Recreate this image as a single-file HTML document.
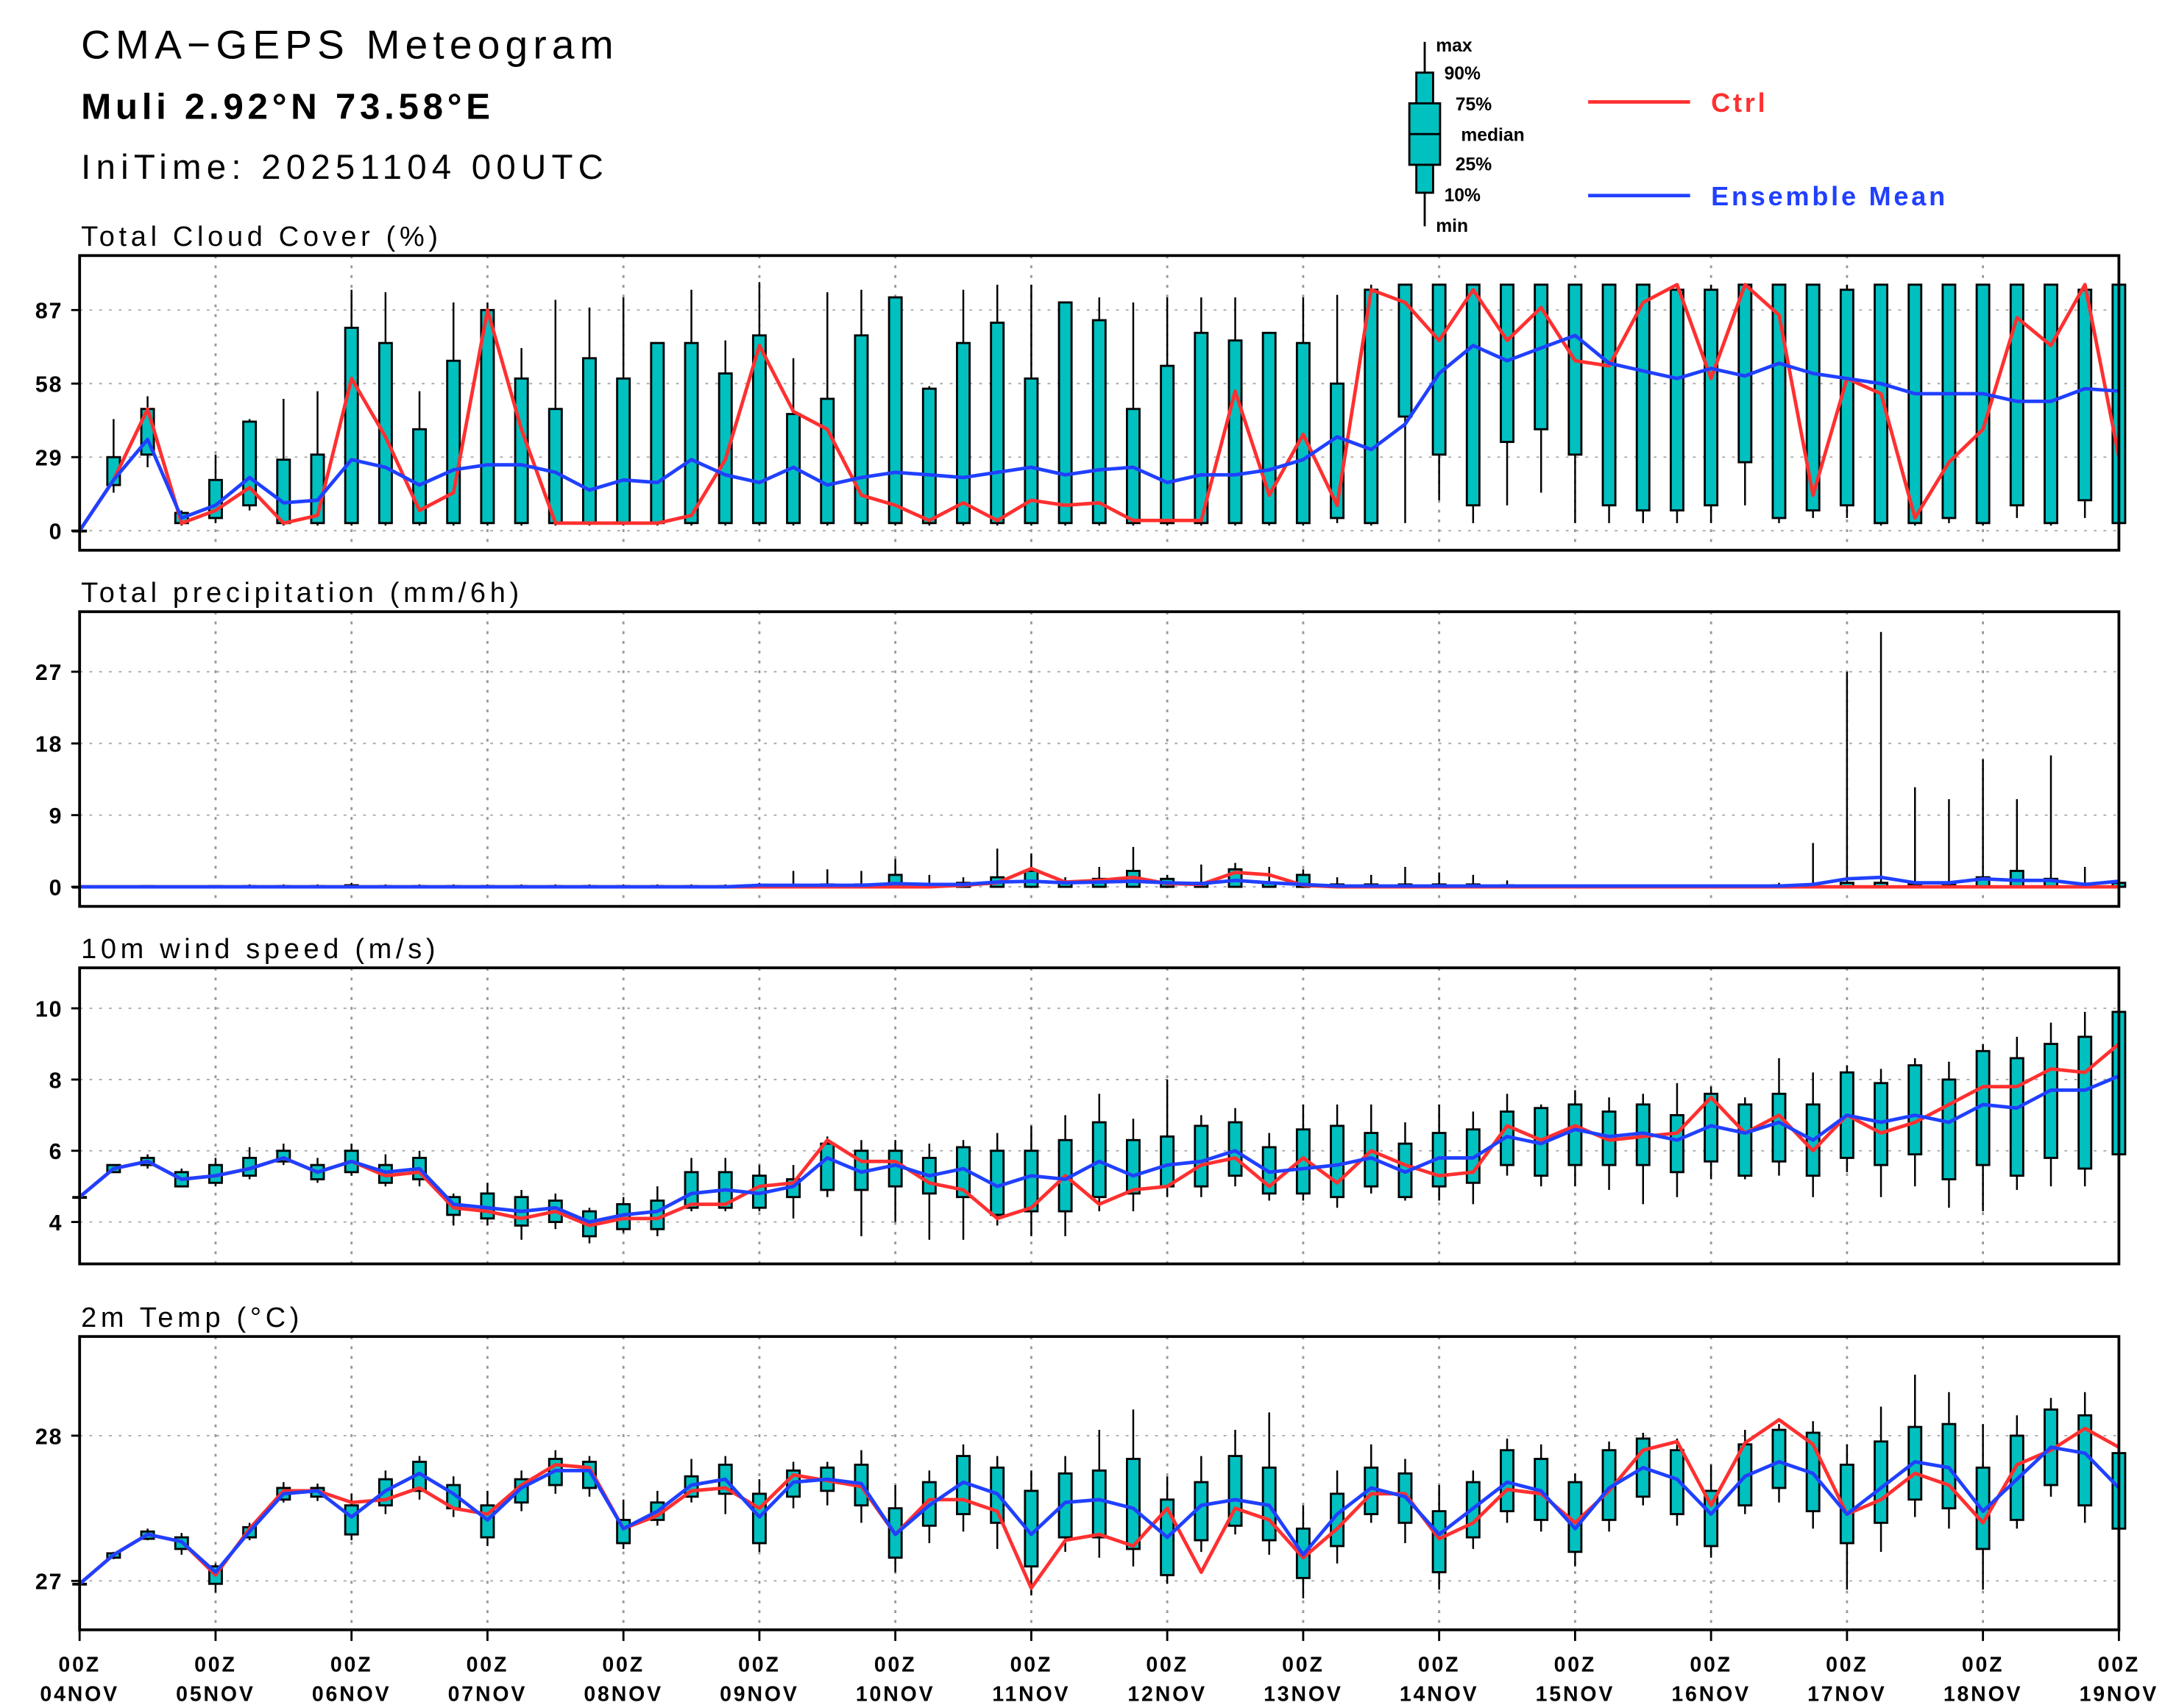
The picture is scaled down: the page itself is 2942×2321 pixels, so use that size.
<!DOCTYPE html>
<html><head><meta charset="utf-8"><style>
html,body{margin:0;padding:0;background:#fff;}
svg{display:block;}
text{font-family:"Liberation Sans",sans-serif;}
</style></head><body>
<svg id="chart" xmlns="http://www.w3.org/2000/svg" width="2942" height="2321" viewBox="0 0 1550 1223" preserveAspectRatio="none">
<rect x="0" y="0" width="1550" height="1223" fill="#fff"/>
<text x="58" y="42" font-size="29" letter-spacing="3.8">CMA−GEPS Meteogram</text>
<text x="58" y="85" font-size="26" font-weight="bold" letter-spacing="3">Muli 2.92°N 73.58°E</text>
<text x="58" y="128" font-size="25" letter-spacing="3.8">IniTime: 20251104 00UTC</text>
<g id="legend" font-size="13" font-weight="bold">
 <line x1="1020" y1="30" x2="1020" y2="162" stroke="#000" stroke-width="1.5"/>
 <rect x="1014" y="52" width="12" height="86" fill="#00c0c0" stroke="#000" stroke-width="1.5"/>
 <rect x="1009" y="74" width="22" height="44" fill="#00c0c0" stroke="#000" stroke-width="1.5"/>
 <line x1="1009" y1="96" x2="1031" y2="96" stroke="#000" stroke-width="1.5"/>
 <text x="1028" y="37">max</text><text x="1034" y="57">90%</text><text x="1042" y="79">75%</text>
 <text x="1046" y="101">median</text><text x="1042" y="122">25%</text><text x="1034" y="144">10%</text><text x="1028" y="166">min</text>
 <line x1="1137" y1="73" x2="1210" y2="73" stroke="#ff3030" stroke-width="2.5"/>
 <text x="1225" y="80" fill="#ff3030" font-size="19" font-weight="bold" letter-spacing="2">Ctrl</text>
 <line x1="1137" y1="140" x2="1210" y2="140" stroke="#2040ff" stroke-width="2.5"/>
 <text x="1225" y="147" fill="#2040ff" font-size="19" font-weight="bold" letter-spacing="2">Ensemble Mean</text>
</g>
<g id="plots"></g>
</svg>
<script>
const NS='http://www.w3.org/2000/svg';
const days=['04NOV','05NOV','06NOV','07NOV','08NOV','09NOV','10NOV','11NOV','12NOV','13NOV','14NOV','15NOV','16NOV','17NOV','18NOV','19NOV'];
const cloudCtrl=[0,20,48,3,8,17,3,6,60,37,8,15,87,40,3,3,3,3,6,28,73,47,40,14,10,4,11,4,12,10,11,4,4,4,55,14,38,10,95,90,75,95,75,88,67,65,90,97,60,97,85,14,60,54,5,27,40,84,73,97,29];
const cloudMean=[0,20,36,5,10,21,11,12,28,25,18,24,26,26,23,16,20,19,28,22,19,25,18,21,23,22,21,23,25,22,24,25,19,22,22,24,28,37,32,42,62,73,67,72,77,66,63,60,64,61,66,62,60,58,54,54,54,51,51,56,55];
const cloudMax=[0,44,53,8,30,44,52,55,95,94,55,90,90,72,91,88,92,62,95,75,98,68,94,95,92,57,95,97,97,90,92,90,92,92,92,78,92,93,97,97,97,97,97,97,97,97,97,97,97,97,97,97,97,97,97,97,97,97,97,97,97];
const cloudHi=[0,29,48,7,20,43,28,30,80,74,40,67,87,60,48,68,60,74,74,62,77,46,52,77,92,56,74,82,60,90,83,48,65,78,75,78,74,58,95,97,97,97,97,97,97,97,97,95,95,97,97,97,95,97,97,97,97,97,97,95,97];
const cloudLo=[0,18,30,3,5,10,3,3,3,3,3,3,3,3,3,3,3,3,3,3,3,3,3,3,3,3,3,3,3,3,3,3,3,3,3,3,3,5,3,45,30,10,35,40,30,10,8,8,10,27,5,8,10,3,3,5,3,10,3,12,3];
const cloudMin=[0,15,25,2,3,8,2,2,2,2,2,2,2,2,2,2,2,2,2,2,2,2,2,2,2,2,2,2,2,2,2,2,2,2,2,2,2,3,2,3,12,3,10,15,3,3,3,3,3,10,3,5,5,2,2,3,2,5,2,5,2];
const precCtrl=[0,0,0,0,0,0,0,0,0,0,0,0,0,0,0,0,0,0,0,0,0,0,0,0,0,0,0.2,0.5,2.3,0.6,0.8,1.2,0.4,0.3,1.8,1.5,0.2,0,0,0,0,0,0,0,0,0,0,0,0,0,0,0,0,0,0,0,0,0,0,0,0];
const precMean=[0,0,0,0,0,0,0,0,0,0,0,0,0,0,0,0,0,0,0,0,0.2,0.2,0.2,0.2,0.4,0.3,0.3,0.6,0.7,0.5,0.6,0.7,0.5,0.4,0.8,0.5,0.3,0.1,0.1,0.1,0.1,0.1,0.1,0.1,0.1,0.1,0.1,0.1,0.1,0.1,0.1,0.3,1.0,1.2,0.5,0.5,1.0,0.8,0.8,0.3,0.7];
const precMax=[0,0,0.2,0,0.2,0.3,0.3,0.3,0.5,0.3,0.3,0.3,0.3,0.3,0.3,0.3,0.3,0.3,0.3,0.3,0.5,2,2.2,2,3.5,1.5,1.2,4.8,4.2,1.2,2.5,5,1.5,2.8,3,2.5,2.2,1.2,1.5,2.5,1.8,1.5,0.8,0.3,0.3,0.3,0.3,0.3,0.3,0.3,0.5,5.5,27,32,12.5,11,16,11,16.5,2.5,1];
const precHi=[0,0,0.1,0,0.1,0.1,0.1,0.1,0.2,0.1,0.1,0.1,0.1,0.1,0.1,0.1,0.1,0.1,0.1,0.1,0.2,0.2,0.3,0.3,1.5,0.3,0.5,1.2,2,0.5,1,2,1,0.5,2.2,0.5,1.5,0.3,0.3,0.3,0.3,0.3,0.2,0.1,0.1,0.1,0.1,0.1,0.1,0.1,0.2,0.3,0.5,0.5,0.3,0.3,1.2,2,1,0.3,0.5];
const precLo=[0,0,0,0,0,0,0,0,0,0,0,0,0,0,0,0,0,0,0,0,0,0,0,0,0,0,0,0,0,0,0,0,0,0,0,0,0,0,0,0,0,0,0,0,0,0,0,0,0,0,0,0,0,0,0,0,0,0,0,0,0];
const windCtrl=[4.7,5.5,5.7,5.2,5.3,5.5,5.8,5.4,5.7,5.3,5.4,4.4,4.3,4.1,4.3,3.9,4.1,4.1,4.5,4.5,5.0,5.1,6.3,5.7,5.7,5.1,4.9,4.1,4.4,5.3,4.5,4.9,5.0,5.6,5.8,5.0,5.8,5.1,6.0,5.6,5.3,5.4,6.7,6.3,6.7,6.3,6.4,6.5,7.5,6.5,7.0,6.0,7.0,6.5,6.8,7.3,7.8,7.8,8.3,8.2,9.0];
const windMean=[4.7,5.5,5.7,5.2,5.3,5.5,5.8,5.4,5.7,5.4,5.5,4.5,4.4,4.3,4.4,4.0,4.2,4.3,4.8,4.9,4.8,5.0,5.8,5.4,5.6,5.3,5.5,5.0,5.3,5.2,5.7,5.3,5.6,5.7,6.0,5.4,5.5,5.6,5.8,5.4,5.8,5.8,6.4,6.2,6.6,6.4,6.5,6.3,6.7,6.5,6.8,6.3,7.0,6.8,7.0,6.8,7.3,7.2,7.7,7.7,8.1];
const windHi=[4.7,5.6,5.8,5.4,5.6,5.8,6.0,5.6,6.0,5.6,5.8,4.7,4.8,4.7,4.6,4.3,4.5,4.6,5.4,5.4,5.3,5.2,6.2,6.0,6.0,5.8,6.1,6.0,6.0,6.3,6.8,6.3,6.4,6.7,6.8,6.1,6.6,6.7,6.5,6.2,6.5,6.6,7.1,7.2,7.3,7.1,7.3,7.0,7.6,7.3,7.6,7.3,8.2,7.9,8.4,8.0,8.8,8.6,9.0,9.2,9.9];
const windLo=[4.7,5.4,5.6,5.0,5.1,5.3,5.7,5.2,5.4,5.1,5.2,4.2,4.1,3.9,4.0,3.6,3.8,3.8,4.4,4.4,4.4,4.7,4.9,4.9,5.0,4.8,4.7,4.2,4.3,4.3,4.7,4.8,5.0,5.0,5.3,4.8,4.8,4.7,5.0,4.7,5.0,5.1,5.6,5.3,5.6,5.6,5.6,5.4,5.7,5.3,5.7,5.3,5.8,5.6,5.9,5.2,5.6,5.3,5.8,5.5,5.9];
const windMax=[4.7,5.6,5.9,5.5,5.8,6.1,6.2,5.8,6.2,5.9,6.0,4.8,5.1,4.9,4.8,4.4,4.7,5.0,5.8,5.8,5.6,5.6,6.4,6.3,6.3,6.2,6.3,6.5,6.7,7.0,7.6,6.9,8.0,7.0,7.2,6.5,7.3,7.3,7.3,6.8,7.3,7.1,7.6,7.3,7.7,7.5,7.6,7.9,7.8,7.5,8.6,8.2,8.4,8.3,8.6,8.5,9.0,9.2,9.6,9.9,10.1];
const windMin=[4.7,5.4,5.5,5.0,5.0,5.2,5.6,5.1,5.3,5.0,5.0,3.9,3.9,3.5,3.8,3.4,3.7,3.6,4.3,4.3,4.3,4.1,4.7,3.6,4.0,3.5,3.5,3.9,3.6,3.6,4.3,4.3,4.7,4.7,5.0,4.6,4.6,4.4,4.8,4.6,4.6,4.5,5.3,5.0,5.0,4.9,4.5,4.7,5.2,5.2,5.3,4.7,5.4,4.7,5.0,4.4,4.3,4.9,5.0,5.0,5.8];
const tempCtrl=[26.98,27.18,27.32,27.27,27.04,27.36,27.62,27.62,27.54,27.56,27.64,27.50,27.46,27.66,27.80,27.78,27.36,27.45,27.62,27.64,27.50,27.73,27.69,27.65,27.32,27.56,27.56,27.48,26.95,27.28,27.32,27.24,27.50,27.06,27.50,27.42,27.16,27.36,27.60,27.60,27.29,27.40,27.63,27.60,27.40,27.62,27.90,27.96,27.52,27.95,28.11,27.94,27.46,27.56,27.74,27.66,27.40,27.80,27.90,28.05,27.92];
const tempMean=[26.98,27.18,27.32,27.27,27.06,27.34,27.60,27.62,27.44,27.62,27.74,27.60,27.42,27.64,27.76,27.76,27.36,27.48,27.66,27.70,27.44,27.68,27.70,27.67,27.32,27.52,27.68,27.60,27.32,27.54,27.56,27.50,27.30,27.52,27.56,27.52,27.18,27.46,27.64,27.58,27.32,27.50,27.68,27.62,27.36,27.64,27.78,27.70,27.46,27.72,27.82,27.74,27.46,27.64,27.82,27.78,27.48,27.70,27.92,27.88,27.64];
const tempHi=[26.98,27.19,27.34,27.30,27.10,27.37,27.64,27.64,27.52,27.70,27.82,27.66,27.52,27.70,27.84,27.82,27.42,27.54,27.72,27.80,27.60,27.76,27.78,27.80,27.50,27.68,27.86,27.78,27.62,27.74,27.76,27.84,27.56,27.68,27.86,27.78,27.36,27.60,27.78,27.74,27.48,27.68,27.90,27.84,27.68,27.90,27.98,27.90,27.62,27.94,28.04,28.02,27.80,27.96,28.06,28.08,27.78,28.00,28.18,28.14,27.88];
const tempLo=[26.98,27.16,27.29,27.22,26.98,27.30,27.56,27.58,27.32,27.52,27.62,27.50,27.30,27.54,27.66,27.64,27.26,27.42,27.58,27.60,27.26,27.58,27.62,27.52,27.16,27.38,27.46,27.40,27.10,27.30,27.30,27.22,27.04,27.28,27.38,27.28,27.02,27.24,27.46,27.40,27.06,27.30,27.48,27.42,27.20,27.42,27.58,27.46,27.24,27.52,27.64,27.48,27.26,27.40,27.56,27.50,27.22,27.42,27.66,27.52,27.36];
const tempMax=[26.98,27.20,27.36,27.33,27.12,27.40,27.68,27.67,27.60,27.76,27.86,27.72,27.62,27.76,27.90,27.86,27.56,27.62,27.84,27.86,27.70,27.82,27.82,27.90,27.66,27.76,27.94,27.86,27.76,27.86,28.04,28.18,27.72,27.86,28.04,28.16,27.52,27.76,27.94,27.84,27.66,27.76,27.98,27.94,27.74,27.96,28.02,27.98,27.80,28.04,28.08,28.10,27.94,28.20,28.42,28.30,28.08,28.14,28.26,28.30,28.00];
const tempMin=[26.98,27.15,27.28,27.18,26.92,27.28,27.54,27.55,27.28,27.46,27.56,27.44,27.24,27.48,27.60,27.58,27.22,27.38,27.54,27.46,27.20,27.50,27.52,27.40,27.06,27.26,27.34,27.22,26.90,27.20,27.16,27.10,26.98,27.20,27.32,27.18,26.88,27.12,27.40,27.26,26.94,27.22,27.40,27.34,27.10,27.34,27.52,27.38,27.16,27.46,27.54,27.36,26.94,27.20,27.44,27.36,26.94,27.36,27.58,27.40,27.16];
const cloudTicks=[0,29,58,87];
const precTicks=[0,9,18,27];
const windTicks=[4,6,8,10];
const tempTicks=[27,28];

const X0=57,X1=1517,NSTEP=60;
function xs(i){return X0+(X1-X0)*i/NSTEP;}
function mk(parent,tag,attrs){const e=document.createElementNS(NS,tag);for(const k in attrs)e.setAttribute(k,attrs[k]);parent.appendChild(e);return e;}
const root=document.getElementById('plots');

function panel(key,title,top,bot,v0,y0,v1,y1,ticks,ctrl,mean,mn,lo,hi,mx,last){
  const ys=v=>y0+(v-v0)*(y1-y0)/(v1-v0);
  const g=mk(root,'g',{});
  
  
  const t=mk(g,'text',{x:58,y:top-7,'font-size':20,'letter-spacing':3});
  t.textContent=title;
  
  
  for(let d=1;d<15;d++){const l=mk(g,'line',{x1:xs(d*4),x2:xs(d*4),y1:top,y2:bot,stroke:'#999','stroke-width':1.5,'stroke-dasharray':'2,5'});
    
    }
  ticks.forEach(v=>{const y=ys(v);
    const gl=mk(g,'line',{x1:X0,x2:X1,y1:y,y2:y,stroke:'#aaa','stroke-width':1,'stroke-dasharray':'2,5'});
    
    
    mk(g,'line',{x1:X0-6,x2:X0,y1:y,y2:y,stroke:'#000','stroke-width':1.5});
    const tl=mk(g,'text',{x:X0-12,y:y+6,'font-size':16,'font-weight':'bold','text-anchor':'end','letter-spacing':1});
    tl.textContent=v;
    
    
  });
  for(let i=0;i<ctrl.length;i++){
    const x=xs(i);
    const bx=mk(g,'g',{});
    
    
    mk(bx,'line',{x1:x,x2:x,y1:ys(mx[i]),y2:ys(mn[i]),stroke:'#000','stroke-width':1.3});
    const h=Math.max(ys(lo[i])-ys(hi[i]),0.5);
    mk(bx,'rect',{x:x-4.5,y:ys(hi[i]),width:9,height:h,fill:'#00c0c0',stroke:'#000','stroke-width':1.5});
  }
  const pts=a=>a.map((v,i)=>xs(i).toFixed(1)+','+ys(v).toFixed(1)).join(' ');
  const pc=mk(g,'polyline',{points:pts(ctrl),fill:'none',stroke:'#ff3030','stroke-width':2.5,'stroke-linejoin':'round'});
  
  
  const pm=mk(g,'polyline',{points:pts(mean),fill:'none',stroke:'#2040ff','stroke-width':2.5,'stroke-linejoin':'round'});
  
  
  const fr=mk(g,'rect',{x:X0,y:top,width:X1-X0,height:bot-top,fill:'none',stroke:'#000','stroke-width':2});
  
  
  if(last){
    for(let d=0;d<=15;d++){
      const x=xs(d*4);
      mk(g,'line',{x1:x,x2:x,y1:bot,y2:bot+8,stroke:'#000','stroke-width':1.5});
      const a=mk(g,'text',{x:x,y:bot+30,'font-size':15,'font-weight':'bold','text-anchor':'middle','letter-spacing':1.5});
      a.textContent='00Z';
      
      
      const b=mk(g,'text',{x:x,y:bot+51,'font-size':15,'font-weight':'bold','text-anchor':'middle','letter-spacing':1.5});
      b.textContent=days[d];
      
      
    }
  }
}
panel('cloud','Total Cloud Cover (%)',183,394,0,380,87,222,cloudTicks,cloudCtrl,cloudMean,cloudMin,cloudLo,cloudHi,cloudMax,false);
panel('precip','Total precipitation (mm/6h)',438,649,0,635,27,481,precTicks,precCtrl,precMean,precLo,precLo,precHi,precMax,false);
panel('wind','10m wind speed (m/s)',693,905,4,875,10,722,windTicks,windCtrl,windMean,windMin,windLo,windHi,windMax,false);
panel('temp','2m Temp (°C)',957,1167,27,1132,28,1028,tempTicks,tempCtrl,tempMean,tempMin,tempLo,tempHi,tempMax,true);
</script>
</body></html>
